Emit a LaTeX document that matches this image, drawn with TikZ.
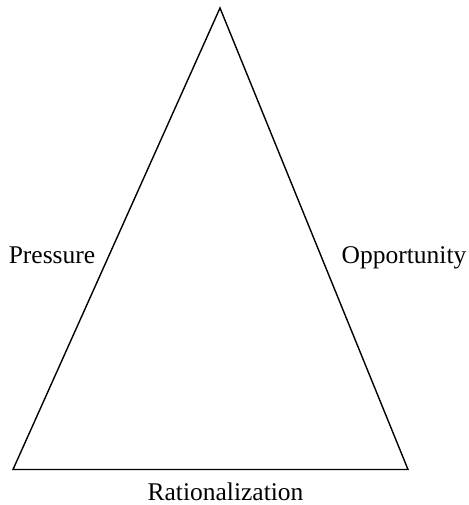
\documentclass[tikz,border=0pt]{standalone}
\usepackage{fontspec}
\setmainfont{Liberation Serif}
\begin{document}
\begin{tikzpicture}[x=1pt,y=1pt,
  lbl/.style={anchor=base,inner sep=0pt,font=\fontsize{25.5}{30}\selectfont},
  edge/.style={line width=1.4pt,line join=miter}]
\useasboundingbox (0,0) rectangle (468,505);
\coordinate (top) at (220,497);
\coordinate (bl) at (13,35.5);
\coordinate (br) at (408,35.5);
\draw[edge] (top) -- (br) -- (bl) -- cycle;
\node[lbl] (pressure) at (52,241) {Pressure};
\node[lbl] (opportunity) at (404,241) {Opportunity};
\node[lbl] (rationalization) at (225.5,5) {Rationalization};
\end{tikzpicture}
\end{document}
